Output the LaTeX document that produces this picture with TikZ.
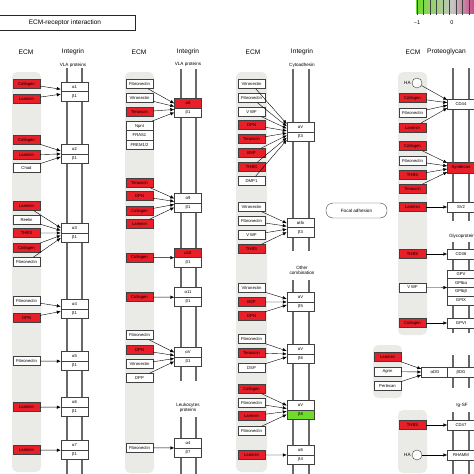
\documentclass[tikz,border=0pt]{standalone}
\usepackage{fontspec}
\setmainfont{Liberation Sans}
\usetikzlibrary{arrows, arrows.meta, shapes, positioning}

\definecolor{keggred}{RGB}{232,30,40}
\definecolor{kegggreen}{RGB}{110,220,40}
\definecolor{lanegray}{RGB}{234,234,230}
\definecolor{memgray}{RGB}{105,105,105}
\definecolor{legpink}{RGB}{200,40,120}

\tikzset{
  box/.style={draw=black!75, line width=0.4pt, fill=white, minimum width=27pt, minimum height=9.5pt, inner sep=0pt, font=\fontsize{4.2}{5}\selectfont},
  ecm/.style={box, minimum height=9pt},
  ecmred/.style={ecm, fill=keggred},
  stack/.style={box, minimum height=9.25pt},
  rec/.style={box},
  recred/.style={box, fill=keggred},
  recgreen/.style={box, fill=kegggreen},
  gp/.style={box, minimum height=8.75pt},
  lane/.style={fill=lanegray, rounded corners=5pt},
  mem/.style={draw=memgray, line width=1.7pt},
  act/.style={-{Latex[length=4pt,width=3.4pt]}, line width=0.4pt},
  head/.style={font=\fontsize{6.6}{7}\selectfont, inner sep=0pt},
  sub/.style={font=\fontsize{4.6}{5.5}\selectfont, inner sep=0pt},
  hyal/.style={circle, draw=black!75, line width=0.4pt, fill=white, minimum size=10pt, inner sep=0pt},
}

\begin{document}
\begin{tikzpicture}[x=1pt, y=-1pt]
\useasboundingbox (0,0) rectangle (474,474);

% Legend
\shade[left color=kegggreen, right color=gray!45] (416,0) rectangle (452,13);
\shade[left color=gray!45, right color=legpink] (452,0) rectangle (480,13);
\foreach \x in {417,423.5,...,474}
  \draw[black!75, line width=0.5pt] (\x,0) -- (\x,14.5);
\node[sub, font=\fontsize{5.5}{6}\selectfont] (lmin) at (417,23) {−1};
\node[sub, font=\fontsize{5.5}{6}\selectfont] (lzero) at (452,23) {0};

% Title
\node[draw=black!85, line width=0.7pt, minimum width=140pt, minimum height=15pt, font=\fontsize{6.5}{7}\selectfont] (title) at (65,22.5) {ECM-receptor interaction};

% Lanes
\path[lane] (12,72) rectangle (41,472);
\path[lane] (125,72) rectangle (154,473);
\path[lane] (236,72) rectangle (267,472);
\path[lane] (398,72) rectangle (427,335);
\path[lane] (373,345) rectangle (402,398);
\path[lane] (398,410) rectangle (427,473);

% Membrane
\draw[mem] (67,68) -- (67,474);
\draw[mem] (82,68) -- (82,474);
\draw[mem] (181,69) -- (181,381);
\draw[mem] (196,69) -- (196,381);
\draw[mem] (181,417) -- (181,474);
\draw[mem] (196,417) -- (196,474);
\draw[mem] (293,69) -- (293,251);
\draw[mem] (309,69) -- (309,251);
\draw[mem] (293,280) -- (293,474);
\draw[mem] (309,280) -- (309,474);
\foreach \y/\z in {68/221, 242/333, 355/388, 412/474} {
  \draw[mem] (453,\y) -- (453,\z);
  \draw[mem] (469,\y) -- (469,\z);
}

% Headers
\node[head] (ecm1) at (26,52) {ECM};
\node[head] (int1) at (73,52) {Integrin};
\node[head] (ecm2) at (139,52) {ECM};
\node[head] (int2) at (188,52) {Integrin};
\node[head] (ecm3) at (253,52) {ECM};
\node[head] (int3) at (302,52) {Integrin};
\node[head] (ecm4) at (413,52) {ECM};
\node[head, anchor=west] (pg) at (427,52) {Proteoglycan};
\node[sub] (vla1) at (73,65) {VLA proteins};
\node[sub] (vla2) at (188,64) {VLA proteins};
\node[sub] (cyto) at (302,65) {Cytoadhesin};
\node[sub, align=center] (leuko) at (188,408) {Leukocytes\\proteins};
\node[sub, align=center] (other) at (302,270.5) {Other\\combination};
\node[sub] (glyco) at (462,236) {Glycoprotein};
\node[sub] (igsf) at (462,405) {Ig-SF};
\node[draw=black!75, line width=0.4pt, rounded corners=7pt, minimum width=61pt, minimum height=15pt, font=\fontsize{4.6}{5.5}\selectfont] (focal) at (356.5,210.5) {Focal adhesion};

% Nodes: column 1
\node[ecmred] (col1) at (26.5,84) {Collagen};
\node[ecmred] (lam1) at (26.5,99) {Laminin};
\node[rec] (a1) at (74.5,86.75) {α1};
\node[rec] (b1) at (74.5,96.25) {β1};
\node[ecmred] (col2) at (26.5,140) {Collagen};
\node[ecmred] (lam2) at (26.5,155) {Laminin};
\node[ecm] (chad) at (26.5,168) {Chad};
\node[rec] (a2) at (74.5,149) {α2};
\node[rec] (b2) at (74.5,158.5) {β1};
\node[ecmred] (lam3) at (26.5,206) {Laminin};
\node[ecm] (reelin) at (26.5,220) {Reelin};
\node[ecmred] (thbs3) at (26.5,233) {THBS};
\node[ecmred] (col3) at (26.5,248) {Collagen};
\node[ecm] (fn3) at (26.5,262) {Fibronectin};
\node[rec] (a3) at (74.5,228) {α3};
\node[rec] (b3) at (74.5,237.5) {β1};
\node[ecm] (fn4) at (26.5,301) {Fibronectin};
\node[ecmred] (opn4) at (26.5,318) {OPN};
\node[rec] (a4) at (74.5,304) {α4};
\node[rec] (b4) at (74.5,313.5) {β1};
\node[ecm] (fn5) at (26.5,361) {Fibronectin};
\node[rec] (a5) at (74.5,356.25) {α5};
\node[rec] (b5) at (74.5,365.75) {β1};
\node[ecmred] (lam6) at (26.5,407) {Laminin};
\node[rec] (a6) at (74.5,402.25) {α6};
\node[rec] (b6) at (74.5,411.75) {β1};
\node[ecmred] (lam7) at (26.5,450) {Laminin};
\node[rec] (a7) at (74.5,445.25) {α7};
\node[rec] (b7) at (74.5,454.75) {β1};

% Nodes: column 2
\node[ecm] (fn8) at (139.5,84) {Fibronectin};
\node[ecm] (vn8) at (139.5,98) {Vitronectin};
\node[ecmred] (tn8) at (139.5,112) {Tenascin};
\node[stack] (npnt) at (139.5,126) {Npnt};
\node[stack] (fras) at (139.5,135.25) {FRAS1};
\node[stack] (frem) at (139.5,144.5) {FREM1/2};
\node[recred] (a8) at (188,103) {α8};
\node[rec] (b8) at (188,112.5) {β1};
\node[ecmred] (tn9) at (139.5,183) {Tenascin};
\node[ecmred] (opn9) at (139.5,196) {OPN};
\node[ecmred] (col9) at (139.5,211) {Collagen};
\node[ecmred] (lam9) at (139.5,224) {Laminin};
\node[rec] (a9) at (188,198) {α9};
\node[rec] (b9) at (188,207.5) {β1};
\node[ecmred] (col10) at (139.5,257.5) {Collagen};
\node[recred] (a10) at (188,252.75) {α10};
\node[rec] (b10) at (188,262.25) {β1};
\node[ecmred] (col11) at (139.5,297) {Collagen};
\node[rec] (a11) at (188,292.25) {α11};
\node[rec] (b11) at (188,301.75) {β1};
\node[ecm] (fnv) at (139.5,335) {Fibronectin};
\node[ecmred] (opnv) at (139.5,350) {OPN};
\node[ecm] (vnv) at (139.5,364) {Vitronectin};
\node[ecm] (dpp) at (139.5,378) {DPP};
\node[rec] (av) at (188,352) {αV};
\node[rec] (bv) at (188,361.5) {β1};
\node[ecm] (fnl) at (139.5,447.75) {Fibronectin};
\node[rec] (a4l) at (188,443) {α4};
\node[rec] (b7l) at (188,452.5) {β7};

% Nodes: column 3
\node[ecm] (vnc) at (251.5,84) {Vitronectin};
\node[ecm] (fnc) at (251.5,98) {Fibronectin};
\node[ecm] (vwfc) at (251.5,112) {V WF};
\node[ecmred] (opnc) at (251.5,125) {OPN};
\node[ecmred] (tnc) at (251.5,139) {Tenascin};
\node[ecmred] (bspc) at (251.5,153) {BSP};
\node[ecmred] (thbsc) at (251.5,167) {THBS};
\node[ecm] (dmp) at (251.5,181) {DMP1};
\node[rec] (avc) at (300.5,127) {αV};
\node[rec] (bc) at (300.5,136.5) {β3};
\node[ecm] (vnp) at (251.5,207) {Vitronectin};
\node[ecm] (fnp) at (251.5,221) {Fibronectin};
\node[ecm] (vwfp) at (251.5,235) {V WF};
\node[ecmred] (thbsp) at (251.5,249) {THBS};
\node[rec] (aIIb) at (300.5,222.75) {αIIb};
\node[rec] (bIIb) at (300.5,232.25) {β3};
\node[ecm] (vn5) at (251.5,288) {Vitronectin};
\node[ecmred] (bsp5) at (251.5,302) {BSP};
\node[ecmred] (opn5) at (251.5,316) {OPN};
\node[rec] (av5) at (300.5,297) {αV};
\node[rec] (bb5) at (300.5,306.5) {β5};
\node[ecm] (fn6) at (251.5,339) {Fibronectin};
\node[ecmred] (tn6) at (251.5,353) {Tenascin};
\node[ecm] (dsp) at (251.5,368) {DSP};
\node[rec] (av6) at (300.5,349) {αV};
\node[rec] (bb6) at (300.5,358.5) {β6};
\node[ecmred] (colb8) at (251.5,389) {Collagen};
\node[ecm] (fnb8) at (251.5,403) {Fibronectin};
\node[ecmred] (lamb8) at (251.5,416) {Laminin};
\node[ecm] (fnb8b) at (251.5,431) {Fibronectin};
\node[rec] (av8) at (300.5,405) {αV};
\node[recgreen] (bb8) at (300.5,414.5) {β8};
\node[ecmred] (lamb4) at (251.5,455) {Laminin};
\node[rec] (a6c) at (300.5,450) {α6};
\node[rec] (bb4) at (300.5,459.5) {β4};

% Nodes: column 4
\node[hyal] (ha1) at (417,83) {};
\node[sub, left=1pt of ha1] (ha1l) {HA};
\node[ecmred] (colg) at (412.5,98) {Collagen};
\node[ecm] (fng) at (412.5,113) {Fibronectin};
\node[ecmred] (lamg) at (412.5,128) {Laminin};
\node[rec, minimum height=10pt] (cd44) at (461,104) {CD44};
\node[ecmred] (cols) at (412.5,146) {Collagen};
\node[ecm] (fns) at (412.5,161) {Fibronectin};
\node[ecmred] (thbss) at (412.5,175) {THBS};
\node[ecmred] (tns) at (412.5,189) {Tenascin};
\node[recred, minimum height=11pt] (synd) at (461,167.5) {Syndecan};
\node[ecmred] (lamsv) at (412.5,207) {Laminin};
\node[rec] (sv2) at (461,207) {SV2};
\node[ecmred] (thbsg) at (412.5,254) {THBS};
\node[rec] (cd36) at (461,254) {CD36};
\node[gp] (gpv) at (461,274.25) {GPV};
\node[gp] (gpiba) at (461,283) {GPIbα};
\node[gp] (gpibb) at (461,291.75) {GPIbβ};
\node[gp] (gpix) at (461,300.5) {GPIX};
\node[ecm] (vwfg) at (412.5,287.4) {V WF};
\node[ecmred] (colvi) at (412.5,323) {Collagen};
\node[rec] (gpvi) at (461,323) {GPVI};
\node[ecmred] (lamd) at (387.5,357) {Laminin};
\node[ecm] (agrin) at (387.5,371.5) {Agrin};
\node[ecm] (perl) at (387.5,386) {Perlecan};
\node[rec] (adg) at (435,372) {αDG};
\node[rec] (bdg) at (461,372) {βDG};
\node[ecmred] (thbsi) at (412.5,425) {THBS};
\node[rec] (cd47) at (461,425) {CD47};
\node[hyal] (ha2) at (417,455) {};
\node[sub, left=1pt of ha2] (ha2l) {HA};
\node[rec] (rhamm) at (461,455) {RHAMM};

% Edges: column 1
\draw[act] (col1) -- ([yshift=2.5pt]a1.south west);
\draw[act] (lam1) -- ([yshift=-2.5pt]a1.south west);
\draw[act] (col2) -- ([yshift=3pt]a2.south west);
\draw[act] (lam2) -- (a2.south west);
\draw[act] (chad) -- ([yshift=-3pt]a2.south west);
\draw[act] (lam3) -- ([yshift=5pt]a3.south west);
\draw[act] (reelin) -- ([yshift=2.5pt]a3.south west);
\draw[act] (thbs3) -- (a3.south west);
\draw[act] (col3) -- ([yshift=-2.5pt]a3.south west);
\draw[act] (fn3) -- ([yshift=-5pt]a3.south west);
\draw[act] (fn4) -- ([yshift=2.5pt]a4.south west);
\draw[act] (opn4) -- ([yshift=-2.5pt]a4.south west);
\draw[act] (fn5) -- (a5.south west);
\draw[act] (lam6) -- (a6.south west);
\draw[act] (lam7) -- (a7.south west);

% Edges: column 2
\draw[act] (fn8) -- ([yshift=4.5pt]a8.south west);
\draw[act] (vn8) -- ([yshift=1.5pt]a8.south west);
\draw[act] (tn8) -- ([yshift=-1.5pt]a8.south west);
\draw[act] (npnt) -- ([yshift=-4.5pt]a8.south west);
\draw[act] (tn9) -- ([yshift=4.5pt]a9.south west);
\draw[act] (opn9) -- ([yshift=1.5pt]a9.south west);
\draw[act] (col9) -- ([yshift=-1.5pt]a9.south west);
\draw[act] (lam9) -- ([yshift=-4.5pt]a9.south west);
\draw[act] (col10) -- (a10.south west);
\draw[act] (col11) -- (a11.south west);
\draw[act] (fnv) -- ([yshift=4.5pt]av.south west);
\draw[act] (opnv) -- ([yshift=1.5pt]av.south west);
\draw[act] (vnv) -- ([yshift=-1.5pt]av.south west);
\draw[act] (dpp) -- ([yshift=-4.5pt]av.south west);
\draw[act] (fnl) -- (a4l.south west);

% Edges: column 3
\draw[act] (vnc) -- ([yshift=8pt]avc.south west);
\draw[act] (fnc) -- ([yshift=5.7pt]avc.south west);
\draw[act] (vwfc) -- ([yshift=3.4pt]avc.south west);
\draw[act] (opnc) -- ([yshift=1.1pt]avc.south west);
\draw[act] (tnc) -- ([yshift=-1.1pt]avc.south west);
\draw[act] (bspc) -- ([yshift=-3.4pt]avc.south west);
\draw[act] (thbsc) -- ([yshift=-5.7pt]avc.south west);
\draw[act] (dmp) -- ([yshift=-8pt]avc.south west);
\draw[act] (vnp) -- ([yshift=4.5pt]aIIb.south west);
\draw[act] (fnp) -- ([yshift=1.5pt]aIIb.south west);
\draw[act] (vwfp) -- ([yshift=-1.5pt]aIIb.south west);
\draw[act] (thbsp) -- ([yshift=-4.5pt]aIIb.south west);
\draw[act] (vn5) -- ([yshift=3pt]av5.south west);
\draw[act] (bsp5) -- (av5.south west);
\draw[act] (opn5) -- ([yshift=-3pt]av5.south west);
\draw[act] (fn6) -- ([yshift=3pt]av6.south west);
\draw[act] (tn6) -- (av6.south west);
\draw[act] (dsp) -- ([yshift=-3pt]av6.south west);
\draw[act] (colb8) -- ([yshift=4.5pt]av8.south west);
\draw[act] (fnb8) -- ([yshift=1.5pt]av8.south west);
\draw[act] (lamb8) -- ([yshift=-1.5pt]av8.south west);
\draw[act] (fnb8b) -- ([yshift=-4.5pt]av8.south west);
\draw[act] (lamb4) -- (a6c.south west);

% Edges: column 4
\draw[act] (ha1) -- ([yshift=4pt]cd44.west);
\draw[act] (colg) -- ([yshift=1.3pt]cd44.west);
\draw[act] (fng) -- ([yshift=-1.3pt]cd44.west);
\draw[act] (lamg) -- ([yshift=-4pt]cd44.west);
\draw[act] (cols) -- ([yshift=4.5pt]synd.west);
\draw[act] (fns) -- ([yshift=1.5pt]synd.west);
\draw[act] (thbss) -- ([yshift=-1.5pt]synd.west);
\draw[act] (tns) -- ([yshift=-4.5pt]synd.west);
\draw[act] (lamsv) -- (sv2);
\draw[act] (thbsg) -- (cd36);
\draw[act] (vwfg) -- (gpiba.south west);
\draw[act] (colvi) -- (gpvi);
\draw[act] (lamd) -- ([yshift=3pt]adg.west);
\draw[act] (agrin) -- (adg.west);
\draw[act] (perl) -- ([yshift=-3pt]adg.west);
\draw[act] (thbsi) -- (cd47);
\draw[act] (ha2) -- (rhamm);
\end{tikzpicture}
\end{document}
